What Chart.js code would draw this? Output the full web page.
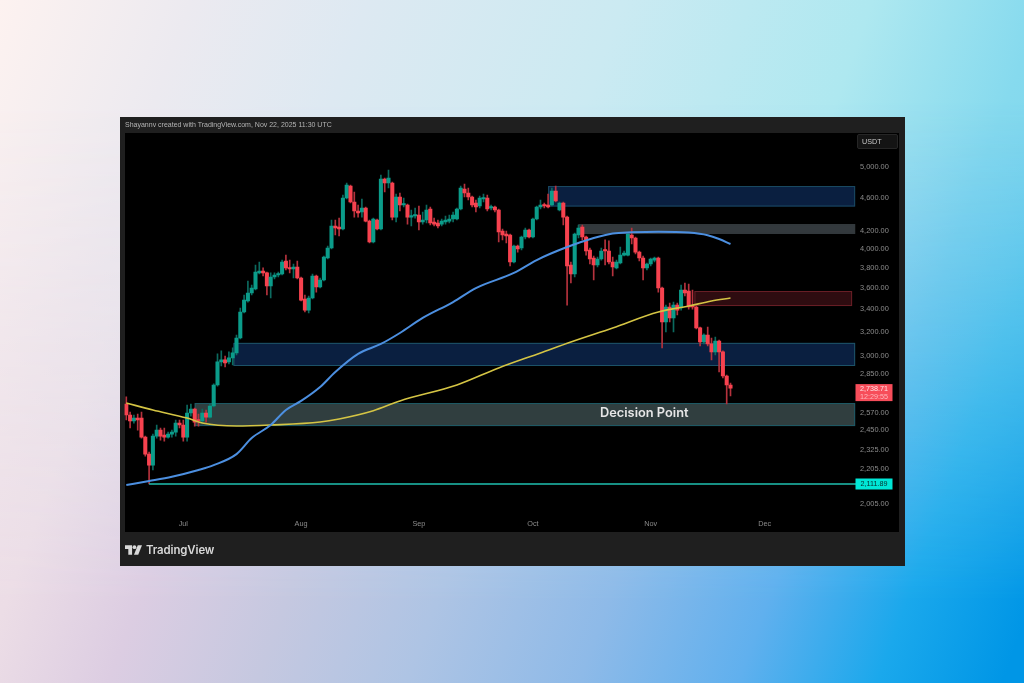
<!DOCTYPE html>
<html><head><meta charset="utf-8">
<style>
html,body{margin:0;padding:0;width:1024px;height:683px;overflow:hidden}
body{position:relative;background:linear-gradient(110deg,#fdf2f0 0%,#eceaf0 15%,#dde9f2 29%,#cbeaf2 49%,#aee8f0 68.6%,#86daee 82%,#70d0ec 100%)}
#bg2{position:absolute;left:0;top:0;width:1024px;height:683px;background:linear-gradient(110deg,#f5e6ea 0%,#ecdde6 17.7%,#dccde2 28%,#c5c8e0 39.7%,#aec4e4 51.5%,#8ebae8 65%,#60b0ee 77.5%,#1aa8ec 88.5%,#0096e6 98.3%);
-webkit-mask-image:linear-gradient(180deg,transparent 15%,#000 88%);mask-image:linear-gradient(180deg,transparent 15%,#000 88%)}
#panel{position:absolute;left:120px;top:117px;width:785px;height:449px;background:#1f1f1f;filter:blur(.4px)}
#plot{position:absolute;left:5px;top:16px;width:774px;height:399px;background:#000}
#head{position:absolute;left:5px;top:3.5px;font:7px "Liberation Sans",Arial,sans-serif;color:#b4b4b4;white-space:nowrap}
#usdt{position:absolute;left:737px;top:17px;height:13px;width:35px;background:#141414;border:1px solid #262626;border-radius:2px;font:7.2px "Liberation Sans",Arial,sans-serif;color:#c8c8c8;line-height:13px;padding-left:4px}
#logo{position:absolute;left:5px;top:426px;display:flex;align-items:center;color:#d9d9d9;font:600 11.4px Inter,"Noto Sans",sans-serif;letter-spacing:-.1px}
#logo svg{margin-right:4px}
canvas{position:absolute;left:0;top:0;filter:blur(.45px)}
</style></head><body>
<div id="bg2"></div>
<div id="panel"><div id="plot"></div>
<div id="head">Shayannv created with TradingView.com, Nov 22, 2025 11:30 UTC</div>
<div id="usdt">USDT</div>
<div id="logo"><svg width="17" height="10" viewBox="0 0 36 20"><path fill="#d9d9d9" d="M0 0h15v20H7V8H0z"/><circle cx="20" cy="4" r="4" fill="#d9d9d9"/><path fill="#d9d9d9" d="M27 0h9l-8 20h-9z"/></svg>TradingView</div>
</div>
<canvas id="c" width="1024" height="683"></canvas>
<script src="https://cdn.jsdelivr.net/npm/chart.js@4/dist/chart.umd.min.js"></script>
<script>
const opens=[2623,2546,2505,2525,2525,2398,2290,2223,2405,2444,2411,2398,2418,2431,2491,2478,2398,2560,2588,2512,2505,2560,2532,2609,2762,2940,2956,2940,2972,3013,3137,3366,3468,3544,3583,3742,3762,3742,3612,3701,3721,3731,3865,3793,3782,3803,3691,3487,3384,3496,3711,3602,3671,3897,4004,4250,4238,4215,4585,4736,4535,4426,4414,4462,4307,4069,4319,4215,4827,4775,4775,4354,4597,4499,4499,4354,4366,4378,4296,4319,4450,4296,4284,4272,4296,4307,4331,4331,4450,4698,4647,4597,4523,4486,4572,4585,4462,4474,4438,4192,4159,4147,3855,4025,4004,4125,4204,4125,4331,4474,4499,4499,4499,4672,4438,4523,4354,3823,3731,4147,4238,4125,3982,3897,3823,3886,3982,3971,3855,3793,3844,3928,3928,4147,4114,3960,3897,3793,3834,3875,3897,3592,3276,3412,3312,3430,3403,3573,3563,3421,3412,3224,3104,3163,3087,3021,3112,3021,2830,2762];
const highs=[2674,2567,2546,2553,2567,2405,2303,2418,2478,2458,2458,2431,2444,2512,2512,2512,2616,2623,2595,2553,2588,2581,2623,2770,3005,3029,2988,3021,3054,3163,3403,3525,3661,3622,3823,3855,3793,3752,3742,3742,3752,3875,3928,3875,3834,3865,3701,3525,3515,3731,3721,3691,3918,4025,4319,4319,4342,4622,4775,4749,4660,4499,4572,4474,4319,4342,4331,4880,4840,4946,4788,4635,4647,4585,4511,4438,4462,4486,4414,4499,4474,4342,4319,4331,4366,4378,4414,4462,4736,4762,4711,4610,4560,4610,4635,4622,4499,4486,4450,4215,4192,4159,4036,4036,4136,4227,4215,4342,4486,4560,4523,4635,4711,4736,4535,4535,4366,3855,4170,4261,4261,4136,4004,3918,3907,4004,4092,4081,3907,3875,4014,3971,4181,4227,4125,3971,3918,3844,3897,3907,3907,3602,3430,3449,3458,3449,3622,3641,3631,3573,3421,3232,3172,3232,3137,3146,3120,3029,2838,2777];
const lows=[2512,2458,2491,2444,2392,2278,2112,2194,2392,2379,2372,2392,2398,2405,2458,2372,2372,2539,2471,2471,2485,2498,2525,2602,2754,2908,2900,2924,2916,2996,3129,3357,3458,3525,3573,3731,3711,3525,3496,3681,3701,3721,3772,3742,3691,3681,3468,3366,3357,3487,3553,3592,3661,3886,3993,4147,4136,4204,4572,4523,4354,4354,4354,4296,4058,4058,4204,4204,4660,4711,4319,4296,4426,4474,4272,4250,4342,4204,4272,4284,4261,4250,4227,4250,4272,4284,4296,4319,4438,4597,4560,4474,4414,4462,4535,4426,4438,4414,4069,4092,4058,3813,3844,3960,3982,4103,4114,4114,4319,4450,4462,4462,4486,4535,4426,4261,3430,3641,3701,4114,4092,3928,3834,3671,3803,3875,3823,3834,3711,3782,3834,3918,3918,4047,3939,3865,3671,3772,3813,3855,3553,3054,3189,3276,3189,3339,3384,3515,3393,3393,3215,3070,3087,3070,2956,2996,2861,2815,2623,2681];
const closes=[2546,2505,2525,2512,2398,2290,2223,2405,2444,2405,2398,2418,2431,2491,2478,2398,2560,2588,2498,2505,2560,2532,2609,2762,2940,2956,2932,2972,3013,3137,3366,3477,3544,3592,3752,3762,3742,3612,3701,3721,3731,3855,3793,3782,3803,3691,3477,3384,3496,3711,3602,3671,3907,4004,4250,4227,4215,4585,4749,4535,4426,4402,4462,4307,4069,4331,4215,4827,4775,4840,4354,4597,4499,4511,4354,4366,4378,4296,4319,4438,4284,4272,4250,4307,4319,4331,4378,4450,4711,4647,4597,4499,4474,4585,4585,4450,4474,4438,4181,4147,4136,3855,4025,3993,4125,4204,4125,4331,4474,4499,4486,4474,4672,4548,4523,4354,3813,3731,4159,4227,4125,3971,3886,3823,3886,3971,3971,3855,3803,3855,3928,3950,4159,4114,3960,3897,3793,3834,3886,3897,3592,3276,3412,3312,3430,3384,3573,3544,3412,3412,3224,3104,3163,3087,3021,3112,3021,2830,2762,2738.71];

const maIndex=[0,6,12,19,23,29,33,38,42,46,51,55,61,67,72,78,86,92,102,108,116,123,128,133,140,148,153,156,159];
const blueValues=[2106,2129,2154,2194,2223,2290,2392,2478,2581,2645,2747,2861,3005,3087,3180,3312,3458,3592,3742,3875,4014,4114,4165,4178,4185,4175,4145,4103,4047];
const yellowIndex=[0,7,16,20,29,38,51,56,65,72,87,98,109,117,128,140,148,154,159];
const yellowValues=[2630,2581,2525,2491,2471,2478,2498,2519,2576,2645,2762,2893,3013,3104,3224,3366,3421,3468,3496];

const yTickValues=[5000,4600,4200,4000,3800,3600,3400,3200,3000,2850,2570,2450,2325,2205,2005];
const monthNames=['Jan','Feb','Mar','Apr','May','Jun','Jul','Aug','Sep','Oct','Nov','Dec'];
const slotCount=192;
const categories=[];
for(let i=0;i<slotCount;i++){const d=new Date(Date.UTC(2025,5,16+i));categories.push(d.getUTCFullYear()+'-'+String(d.getUTCMonth()+1).padStart(2,'0')+'-'+String(d.getUTCDate()).padStart(2,'0'));}

const zoneStart=[111,119,149.5,28.2,18];
const zoneEnd=[191.8,191.8,191,191.8,191.8];
const zoneTop=[4736,4272,3563,3096,2630];
const zoneBottom=[4480,4159,3421,2908,2471];
const zoneFill=['#0a1f40','#33393d','#2e0c10','#0a1f40','#303e3f'];
const zoneLine=['#1a4a62','#33393d','#6a1f26','#1d5468','#1d5a66'];
const supportLevel=2111.89, supportStart=6;
const lastPrice=2738.71;
const zoneLabel='Decision Point', zoneLabelPrice=2557, zoneLabelIndex=136.3;

const UP='#0b9c8a',DOWN='#f7424f',UPW='#0c6a5f',DOWNW='#b5323d';
const isUp=closes.map((c,i)=>c>=opens[i]);
const sparse=(idx,vals)=>{const a=new Array(slotCount).fill(null);idx.forEach((k,j)=>a[k]=vals[j]);return a;};

const overlay={id:'overlay',
 beforeDatasetsDraw(ch){const {ctx,scales:{x,y}}=ch;ctx.save();
  zoneStart.forEach((s,k)=>{const x0=x.getPixelForValue(s),x1=x.getPixelForValue(zoneEnd[k]);
   const y0=y.getPixelForValue(zoneTop[k]),y1=y.getPixelForValue(zoneBottom[k]);
   ctx.fillStyle=zoneFill[k];ctx.fillRect(x0,y0,x1-x0,y1-y0);
   ctx.strokeStyle=zoneLine[k];ctx.lineWidth=1;ctx.strokeRect(x0+.5,y0+.5,x1-x0-1,y1-y0-1);});
  ctx.restore();},
 afterDatasetsDraw(ch){const {ctx,chartArea:a,scales:{x,y}}=ch;ctx.save();
  const ly=y.getPixelForValue(supportLevel);
  ctx.strokeStyle='#1fc0b0';ctx.lineWidth=1.4;ctx.beginPath();ctx.moveTo(x.getPixelForValue(supportStart),ly);ctx.lineTo(a.right+2,ly);ctx.stroke();
  ctx.fillStyle='#e6e6e6';ctx.font='600 12.8px Inter,"Noto Sans",sans-serif';ctx.textAlign='center';ctx.textBaseline='middle';
  ctx.fillText(zoneLabel,x.getPixelForValue(zoneLabelIndex),y.getPixelForValue(zoneLabelPrice));
  const bx=a.right+1.5,bw=37;
  ctx.fillStyle='#00e6d6';ctx.fillRect(bx,ly-5.5,bw,11);
  ctx.fillStyle='#05302e';ctx.font='7.2px "Liberation Sans",Arial,sans-serif';ctx.textAlign='center';
  ctx.fillText('2,111.89',bx+bw/2,ly+.5);
  const py=y.getPixelForValue(lastPrice);
  ctx.fillStyle='#f74d5a';ctx.fillRect(bx,py-4,bw,17);
  ctx.fillStyle='#ffe4e6';ctx.fillText('2,738.71',bx+bw/2,py+1);
  ctx.fillStyle='#ffb9bf';ctx.fillText('12:29:55',bx+bw/2,py+8.5);
  ctx.restore();}
};

new Chart(document.getElementById('c'),{
 type:'bar',
 data:{labels:categories,datasets:[
  {type:'line',label:'MA 100',data:sparse(maIndex,blueValues),borderColor:'#4c8fe0',borderWidth:2,pointRadius:0,spanGaps:true,cubicInterpolationMode:'monotone',order:0},
  {type:'line',label:'MA 200',data:sparse(yellowIndex,yellowValues),borderColor:'#d4c444',borderWidth:1.6,pointRadius:0,spanGaps:true,cubicInterpolationMode:'monotone',order:0},
  {label:'Body',data:opens.map((o,i)=>[o,closes[i]]),backgroundColor:isUp.map(u=>u?UP:DOWN),barThickness:3.4,minBarLength:1.5,grouped:false,order:1},
  {label:'Wick',data:lows.map((l,i)=>[l,highs[i]]),backgroundColor:isUp.map(u=>u?UPW:DOWNW),barThickness:1,grouped:false,order:2}
 ]},
 options:{responsive:false,animation:false,devicePixelRatio:1,
  layout:{padding:{left:124.4,top:133,right:125,bottom:151}},
  plugins:{legend:{display:false},tooltip:{enabled:false}},
  scales:{
   x:{type:'category',offset:true,grid:{display:false,drawTicks:false},border:{display:false},
    afterFit(s){s.height=18;},
    afterBuildTicks(s){s.ticks=s.ticks.filter(t=>categories[t.value].endsWith('-01'));},
    ticks:{autoSkip:false,maxRotation:0,padding:6,color:'#8a8a8a',font:{size:7.3,family:'"Liberation Sans",Arial,sans-serif'},
     callback(v){return monthNames[parseInt(categories[v].slice(5,7),10)-1];}}},
   y:{type:'logarithmic',position:'right',min:1947,max:5468,grid:{display:false,drawTicks:false},border:{display:false},
    afterFit(s){s.width=45;},
    afterBuildTicks(s){s.ticks=yTickValues.map(v=>({value:v}));},
    ticks:{padding:6,labelOffset:1,color:'#8c8c8c',font:{size:7.4,family:'"Liberation Sans",Arial,sans-serif'},
     callback:v=>Number(v).toLocaleString('en-US',{minimumFractionDigits:2,maximumFractionDigits:2})}}
  }},
 plugins:[overlay]});
</script></body></html>
